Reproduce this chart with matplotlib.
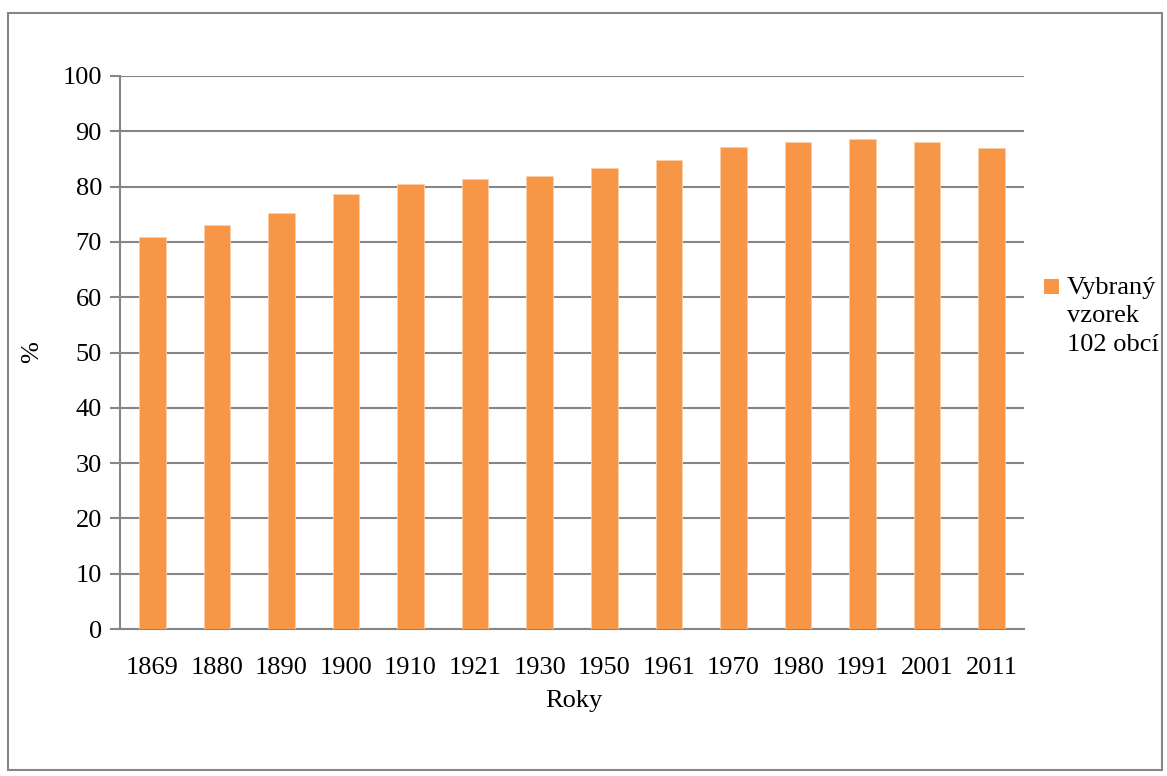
import matplotlib
matplotlib.use("Agg")
import matplotlib.pyplot as plt
from matplotlib.patches import Rectangle

years = ["1869", "1880", "1890", "1900", "1910", "1921", "1930", "1950",
         "1961", "1970", "1980", "1991", "2001", "2011"]
values = [70.9, 73.0, 75.2, 78.6, 80.4, 81.3, 81.9, 83.4, 84.8, 87.1,
          88.0, 88.6, 88.0, 86.9]
yticks = [0, 10, 20, 30, 40, 50, 60, 70, 80, 90, 100]
series_name = "Vybraný\nvzorek\n102 obcí"

plt.rcParams['font.family'] = ['Liberation Serif', 'DejaVu Serif']

W, H = 1167, 776
fig = plt.figure(figsize=(W / 100, H / 100), dpi=100)

# outer border
fig.patches.append(Rectangle((8 / W, 1 - 770 / H), (1162 - 8) / W, (770 - 13) / H,
                             transform=fig.transFigure, fill=False,
                             edgecolor="#868686", linewidth=1.5))

left, right, top, bottom = 120, 1024, 76, 629
ax = fig.add_axes([left / W, 1 - bottom / H, (right - left) / W, (bottom - top) / H])

grid_c = "#868686"
fs = 19
x = list(range(len(years)))
ax.bar(x, values, width=0.41, color="#F79646", edgecolor="#FBD0A8", linewidth=0.6,
       zorder=3)
ax.set_xlim(-0.5, len(years) - 0.5)
ax.set_ylim(0, 100)
ax.set_yticks(yticks)
ax.set_xticks(x)
ax.set_xticklabels(years)
ax.yaxis.grid(True, color=grid_c, linewidth=1.5, zorder=0)
ax.set_axisbelow(True)
for s in ["top", "right"]:
    ax.spines[s].set_visible(False)
for s in ["left", "bottom"]:
    ax.spines[s].set_color(grid_c)
    ax.spines[s].set_linewidth(1.5)
ax.tick_params(axis="y", length=7, width=1.5, color=grid_c, labelsize=fs, pad=6)
ax.tick_params(axis="x", length=0, labelsize=fs, pad=20)

fig.text(574 / W, 1 - 701 / H, "Roky", fontsize=fs, ha="center", va="center")
fig.text(32 / W, 1 - 352 / H, "%", fontsize=fs, ha="center", va="center",
         rotation=90)

# legend
fig.patches.append(Rectangle((1044 / W, 1 - 294 / H), 15 / W, 15 / H,
                             transform=fig.transFigure, facecolor="#F79646",
                             edgecolor="none"))
fig.text(1067 / W, 1 - 277 / H, series_name, fontsize=fs, va="top", ha="left",
         linespacing=1.38)

fig.savefig("out.png", dpi=100)
